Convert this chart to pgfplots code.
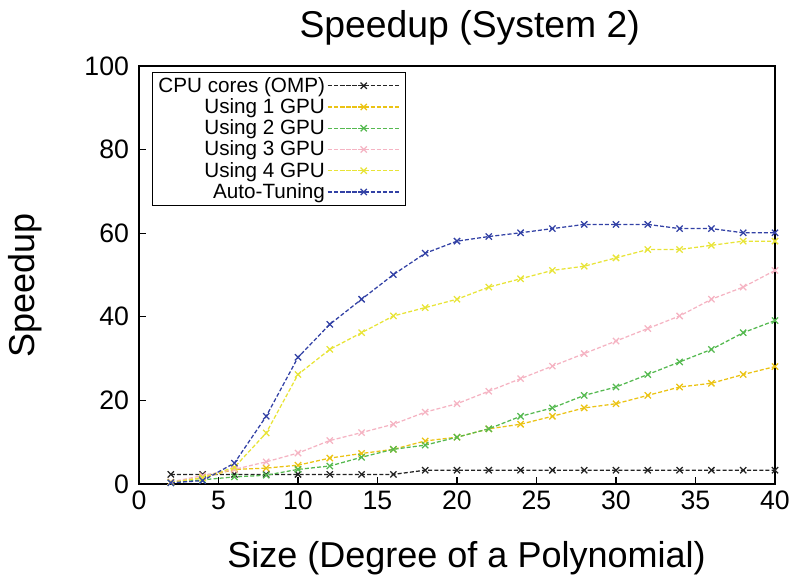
\documentclass[border=0pt]{standalone}
\usepackage{fontspec}
\setmainfont{Liberation Sans}
\usepackage{pgfplots}
\usepackage{pgfplotstable}
\pgfplotsset{compat=1.18}

\definecolor{cpuGray}{RGB}{35,35,35}
\definecolor{gpuOne}{RGB}{235,195,20}
\definecolor{gpuTwo}{RGB}{85,185,80}
\definecolor{gpuThree}{RGB}{245,180,195}
\definecolor{gpuFour}{RGB}{232,228,55}
\definecolor{autoBlue}{RGB}{50,65,165}

% speedup vs. polynomial degree
\pgfplotstableread{
x   cpu  gpu1 gpu2 gpu3 gpu4 auto
2   2.3  0.4  0.3  0.5  0.4  0.3
4   2.3  1.5  1.0  2.0  1.5  0.8
6   2.3  3.5  1.7  3.5  4.0  5.0
8   2.3  3.8  2.1  5.3  12.2 16.2
10  2.3  4.5  3.5  7.4  26.2 30.3
12  2.3  6.2  4.3  10.4 32.2 38.2
14  2.3  7.3  6.4  12.3 36.2 44.2
16  2.3  8.3  8.3  14.3 40.2 50.1
18  3.3  10.3 9.3  17.2 42.2 55.2
20  3.3  11.2 11.2 19.2 44.2 58.1
22  3.3  13.2 13.2 22.2 47.1 59.2
24  3.3  14.3 16.2 25.2 49.1 60.1
26  3.3  16.2 18.2 28.2 51.1 61.1
28  3.3  18.2 21.2 31.2 52.1 62.1
30  3.3  19.2 23.2 34.2 54.1 62.1
32  3.3  21.2 26.2 37.2 56.1 62.1
34  3.3  23.2 29.2 40.2 56.1 61.1
36  3.3  24.1 32.2 44.2 57.1 61.1
38  3.3  26.2 36.2 47.1 58.1 60.1
40  3.3  28.1 39.1 51.1 58.1 60.1
}\speedtable

\begin{document}
\begin{tikzpicture}
\begin{axis}[
    width=477pt,
    height=313.5pt,
    scale only axis,
    xmin=0, xmax=40,
    ymin=0, ymax=100,
    xtick={0,5,...,40},
    ytick={0,20,...,100},
    tick align=inside,
    xtick pos=left,
    ytick pos=left,
    major tick length=5pt,
    tick style={black,line width=0.8pt},
    axis line style={black,line width=1.1pt},
    /pgf/number format/assume math mode=true,
    tick label style={font=\fontsize{20}{22}\selectfont},
    xticklabel style={yshift=-1.5pt},
    yticklabel style={xshift=-4pt},
    title={Speedup (System 2)},
    every axis title/.style={
        at={(axis description cs:0.52,1.067)},
        anchor=base,
        font=\fontsize{28}{30}\selectfont
    },
    xlabel={Size (Degree of a Polynomial)},
    every axis x label/.style={
        at={(axis description cs:0.515,-0.199)},
        anchor=base,
        font=\fontsize{27}{30}\selectfont
    },
    ylabel={Speedup},
    every axis y label/.style={
        at={(axis description cs:-0.165,0.476)},
        rotate=90,
        anchor=base,
        font=\fontsize{27}{30}\selectfont
    },
    legend style={
        at={(axis description cs:0.02,0.986)},
        anchor=north west,
        draw=black,
        line width=0.9pt,
        font=\fontsize{15.5}{17}\selectfont,
        nodes={inner sep=1.6pt}
    },
    legend cell align=right,
    legend plot pos=right,
    legend image code/.code={
        \path (0pt,0pt) -- (55pt,0pt);
        \draw[mark repeat=2,mark phase=2]
            plot coordinates {(5pt,0pt) (27pt,0pt) (49pt,0pt)};
    },
    every axis plot/.append style={
        line width=0.95pt,
        dash pattern=on 3pt off 1.6pt,
        mark=x,
        mark size=3.3pt,
        mark options={solid}
    },
    clip=false
]
\addplot[color=cpuGray]  table[x=x,y=cpu]  {\speedtable};
\addlegendentry{CPU cores (OMP)}
\addplot[color=gpuOne]   table[x=x,y=gpu1] {\speedtable};
\addlegendentry{Using 1 GPU}
\addplot[color=gpuTwo]   table[x=x,y=gpu2] {\speedtable};
\addlegendentry{Using 2 GPU}
\addplot[color=gpuThree] table[x=x,y=gpu3] {\speedtable};
\addlegendentry{Using 3 GPU}
\addplot[color=gpuFour]  table[x=x,y=gpu4] {\speedtable};
\addlegendentry{Using 4 GPU}
\addplot[color=autoBlue] table[x=x,y=auto] {\speedtable};
\addlegendentry{Auto-Tuning}
\end{axis}

% page size as in the reference
\path ([xshift=-104.25pt,yshift=-72.75pt]current axis.south west)
    rectangle ([xshift=15pt,yshift=49.5pt]current axis.north east);
\end{tikzpicture}
\end{document}
